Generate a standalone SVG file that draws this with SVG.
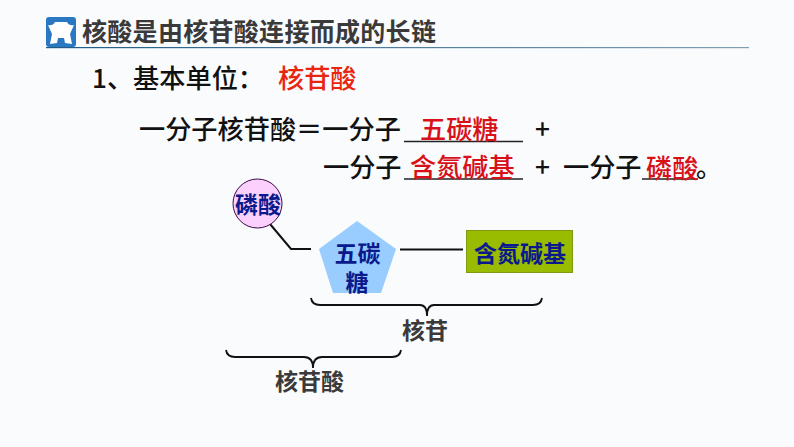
<svg xmlns="http://www.w3.org/2000/svg" width="794" height="447" viewBox="0 0 794 447">
<defs>
<style>
text{font-family:"Noto Sans CJK SC","Liberation Sans",sans-serif}
.title{font-size:25px;font-weight:700;fill:#3a3a3a;letter-spacing:.3px}
.body{font-size:26.200px;font-weight:500;fill:#111}
.red{font-size:26.200px;font-weight:500;fill:#d81118}
.blue{font-weight:700;fill:#0a1a8c}
.gray{font-size:23px;font-weight:700;fill:#3a3a3a}
.ul{stroke:#222;stroke-width:1.400;fill:none}
.conn{stroke:#111;stroke-width:2;fill:none}
.brace{stroke:#111;stroke-width:1.800;fill:none}
</style>
<linearGradient id="rule" x1="0" x2="1" y1="0" y2="0"><stop offset="0" stop-color="#1f5a85"/><stop offset="1" stop-color="#7f9fb5"/></linearGradient>
</defs>
<rect width="794" height="447" fill="#fafbfd"/>
<g id="header">
<rect x="46" y="17" width="30" height="30" rx="3" fill="#2a78c2"/>
<path d="M48 25 Q53 26 55 22 L67 22 Q69 26 74 25 L70 34 L72 44 L65 43 L64 38 L58 38 L57 43 L50 44 L52 34 Z" fill="#fff"/>
<rect x="46" y="47" width="703" height="1.200" fill="url(#rule)"/>
<text class="title" x="82" y="41">核酸是由核苷酸连接而成的长链</text>
</g>
<g id="heading">
<text class="body" x="92" y="88">1、基本单位：</text>
<text class="red" x="278" y="88" style="fill:#e8260f">核苷酸</text>
</g>
<g id="equation">
<text class="body" x="139" y="139">一分子核苷酸＝一分子</text>
<line class="ul" x1="404" y1="141.500" x2="523" y2="141.500"/>
<text class="red" x="420" y="139">五碳糖</text>
<text class="body" x="535" y="139">+</text>
<text class="body" x="323" y="177">一分子</text>
<line class="ul" x1="404" y1="179" x2="523" y2="179"/>
<text class="red" x="410" y="177">含氮碱基</text>
<text class="body" x="535" y="177">+</text>
<text class="body" x="563" y="177">一分子</text>
<line class="ul" x1="642" y1="179" x2="698" y2="179"/>
<text class="red" x="646" y="178">磷酸</text>
<text class="body" x="696" y="177">。</text>
</g>
<g id="connectors">
<polyline class="conn" points="270,224 291,249 311,249"/>
<line class="conn" x1="400" y1="249.500" x2="463" y2="249.500"/>
</g>
<g id="node-phosphate">
<circle cx="257.500" cy="203.500" r="24.500" fill="#fcd0fc" stroke="#3a0a4a" stroke-width="1"/>
<text class="blue" x="258" y="213" font-size="23" text-anchor="middle">磷酸</text>
</g>
<g id="node-sugar">
<polygon points="357,221 396,249 381,293 333,293 319,249" fill="#99ccff"/>
<text class="blue" font-size="23" text-anchor="middle"><tspan x="357.500" y="262">五碳</tspan><tspan x="357" y="291">糖</tspan></text>
</g>
<g id="node-base">
<rect x="466.500" y="230.500" width="106" height="42" fill="#99bb00" stroke="#7f9a10" stroke-width="1"/>
<text class="blue" x="520" y="262" font-size="23" text-anchor="middle">含氮碱基</text>
</g>
<g id="brace-nucleoside">
<path class="brace" d="M311 298 Q312 305 320 305 L420 305 Q427 305 427 316 Q427 305 434 305 L533 305 Q541 305 542 298"/>
<text class="gray" x="425" y="339" text-anchor="middle">核苷</text>
</g>
<g id="brace-nucleotide">
<path class="brace" d="M226 350 Q227 357 235 357 L304 357 Q313 357 313 368 Q313 357 322 357 L392 357 Q400 357 401 350"/>
<text class="gray" x="309.500" y="390" text-anchor="middle">核苷酸</text>
</g>
</svg>
